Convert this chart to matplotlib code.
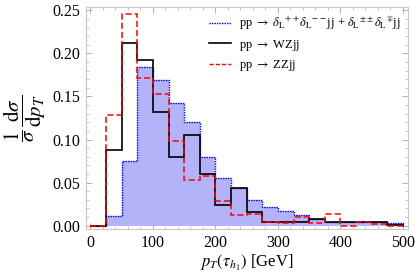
import numpy as np
import matplotlib
matplotlib.use("Agg")
from matplotlib import pyplot as plt
from matplotlib.lines import Line2D
from matplotlib.ticker import MultipleLocator

plt.rcParams['font.family'] = ['Liberation Serif', 'DejaVu Serif']
plt.rcParams['mathtext.fontset'] = 'stix'

# bin edges (GeV) and normalised distributions
edges = np.arange(0, 525, 25)
signal = [0.0, 0.011, 0.075, 0.184, 0.169, 0.142, 0.120, 0.080, 0.055, 0.044,
          0.030, 0.022, 0.017, 0.012, 0.0076, 0.0045, 0.004, 0.004, 0.0038, 0.0025]
wzjj = [0.0, 0.088, 0.212, 0.192, 0.132, 0.080, 0.105, 0.060, 0.024, 0.044,
        0.016, 0.0037, 0.0037, 0.0037, 0.0076, 0.0037, 0.0037, 0.0037, 0.0037, 0.0005]
zzjj = [0.0, 0.128, 0.246, 0.171, 0.153, 0.098, 0.053, 0.058, 0.028, 0.012,
        0.013, 0.0045, 0.0025, 0.0095, 0.0025, 0.013, 0.0, 0.0045, 0.0014, 0.0]

labels = [r'pp $\rightarrow$ $\delta_{\mathrm{L}}{}^{++}\delta_{\mathrm{L}}{}^{--}$jj + $\delta_{\mathrm{L}}{}^{\pm\pm}\delta_{\mathrm{L}}{}^{\mp}$jj',
          r'pp $\rightarrow$ WZjj',
          r'pp $\rightarrow$ ZZjj']

fig = plt.figure(figsize=(4.15, 2.77), dpi=100)
ax = fig.add_axes([86/415, 1-229/277, 322/415, 222/277])

ax.stairs(signal, edges, fill=True, color='#b3b3fa', zorder=1)
ax.stairs(signal, edges, color='blue', lw=1.0, ls=(0, (1, 0.8)), zorder=2)
ax.stairs(wzjj, edges, color='black', lw=1.2, zorder=3)
ax.stairs(zzjj, edges, color='red', lw=1.1, ls=(0, (4, 2)), zorder=4)

ax.set_xlim(-7, 508)
ax.set_ylim(-0.004, 0.254)
ax.xaxis.set_major_locator(MultipleLocator(100))
ax.xaxis.set_minor_locator(MultipleLocator(20))
ax.yaxis.set_major_locator(MultipleLocator(0.05))
ax.yaxis.set_minor_locator(MultipleLocator(0.01))
ax.yaxis.set_major_formatter(matplotlib.ticker.FormatStrFormatter('%.2f'))

for s in ax.spines.values():
    s.set_color('#c8c8c8')
    s.set_linewidth(0.8)
ax.tick_params(which='both', direction='in', top=True, right=True,
               color='#b0b0b0', labelsize=11.5, pad=4)
ax.tick_params(which='major', length=4, width=0.7)
ax.tick_params(which='minor', length=2, width=0.5)

ax.set_xlabel(r'$p_T(\tau_{h_1})$ [GeV]', fontsize=12, labelpad=2)
ax.set_ylabel(r'$\dfrac{1}{\sigma}\,\dfrac{\mathrm{d}\sigma}{\mathrm{d}p_T}$', fontsize=15, labelpad=3)

handles = [Line2D([], [], color='blue', lw=1.0, ls=(0, (1, 0.8))),
           Line2D([], [], color='black', lw=1.2),
           Line2D([], [], color='red', lw=1.0, ls=(0, (3, 1.5)))]
ax.legend(handles, labels, loc='upper right', frameon=False, fontsize=9,
          handlelength=1.8, handletextpad=0.6, labelspacing=0.45,
          borderaxespad=0.2)

fig.savefig('out.png', dpi=100)
